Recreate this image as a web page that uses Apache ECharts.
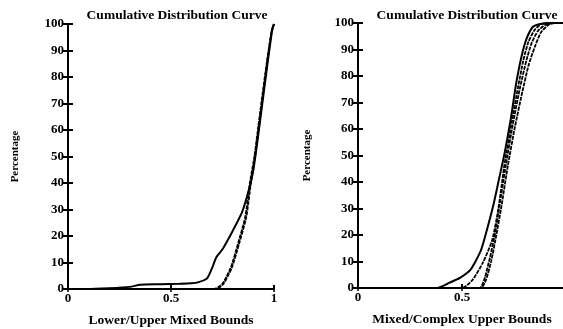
<!DOCTYPE html>
<html>
<head>
<meta charset="utf-8">
<script src="https://cdn.jsdelivr.net/npm/echarts@6/dist/echarts.min.js"></script>
<style>
  html, body { margin: 0; padding: 0; background: #fff; }
  #chart { width: 563px; height: 329px; }
</style>
</head>
<body>
<div id="chart"></div>
<script>
// tick labels
const xTicks = [0, 0.5, 1];
const yTicks = [0, 10, 20, 30, 40, 50, 60, 70, 80, 90, 100];

// left panel: lower/upper mixed bounds
const leftSolidX = [0, 0.09, 0.2, 0.3, 0.35, 0.45, 0.54, 0.6, 0.63, 0.675, 0.7, 0.72, 0.75, 0.8, 0.845, 0.88, 0.9, 0.92, 0.94, 0.965, 0.99, 1.0];
const leftSolidY = [0, 0, 0.3, 0.8, 1.6, 1.8, 2, 2.2, 2.5, 4, 8, 12, 15, 22, 29, 38, 45, 56, 68, 83, 97, 100];
const leftDashAX = [0, 0.71, 0.75, 0.79, 0.825, 0.86, 0.883, 0.905, 0.92, 0.94, 0.966, 0.99, 1];
const leftDashAY = [0, 0, 2, 8, 17, 27, 40, 50, 59, 71, 86, 98, 100];
const leftDashBX = [0, 0.72, 0.755, 0.795, 0.83, 0.865, 0.888, 0.908, 0.923, 0.943, 0.968, 0.99, 1];
const leftDashBY = [0, 0, 2, 8, 17, 27, 40, 50, 59, 71, 86, 98, 100];

// right panel: mixed/complex upper bounds
const rightSolidX = [0, 0.38, 0.44, 0.49, 0.54, 0.59, 0.62, 0.65, 0.675, 0.705, 0.735, 0.76, 0.785, 0.81, 0.84, 0.87, 0.92, 1.0];
const rightSolidY = [0, 0, 2, 3.8, 6.8, 14, 22, 31, 40, 51, 64, 77, 87, 94, 98.5, 99.5, 100, 100];
const rightDashAX = [0, 0.5, 0.55, 0.6, 0.645, 0.675, 0.705, 0.74, 0.77, 0.795, 0.82, 0.85, 0.88, 0.93, 1];
const rightDashAY = [0, 0, 3, 9.5, 18, 30, 47, 63, 76, 86, 93, 97.5, 99.5, 100, 100];
const rightDashBX = [0, 0.585, 0.61, 0.635, 0.66, 0.68, 0.71, 0.745, 0.78, 0.81, 0.835, 0.865, 0.9, 0.95, 1];
const rightDashBY = [0, 0, 4, 11.7, 21, 31, 46, 62, 76, 86, 92.5, 97, 99.3, 100, 100];
const rightDashCX = [0, 0.59, 0.615, 0.64, 0.665, 0.69, 0.72, 0.755, 0.79, 0.82, 0.85, 0.88, 0.92, 0.96, 1];
const rightDashCY = [0, 0, 3, 10, 20, 31, 46, 61, 74, 84, 91, 96.5, 99.5, 100, 100];

const titleText = 'Cumulative Distribution Curve';
const xNames = ['Lower/Upper Mixed Bounds', 'Mixed/Complex Upper Bounds'];
const yName = 'Percentage';

const font = 'Liberation Serif';
const pair = (xs, ys) => xs.map((x, i) => [x, ys[i]]);

const chart = echarts.init(document.getElementById('chart'));

// axes for one panel: bottom + top x, left + right y (ticks inside, like a box)
const xAxisFor = (grid, name) => [
  {
    gridIndex: grid, type: 'value', min: 0, max: 1, interval: 0.5, position: 'bottom',
    name: name, nameLocation: 'middle', nameGap: 25,
    nameTextStyle: { fontFamily: font, fontWeight: 'bold', fontSize: 13.5, color: '#000' },
    axisLine: { lineStyle: { color: '#000', width: 2 } },
    axisTick: { inside: true, length: 4, lineStyle: { color: '#000', width: 2 } },
    axisLabel: { fontFamily: font, fontWeight: 'bold', fontSize: 13, color: '#000', margin: 3,
      formatter: v => (xTicks.indexOf(v) >= 0 ? String(v) : '') },
    splitLine: { show: false }
  },
  {
    gridIndex: grid, type: 'value', min: 0, max: 1, interval: 0.5, position: 'top',
    axisLine: { lineStyle: { color: '#000', width: 2 } },
    axisTick: { inside: true, length: 3, lineStyle: { color: '#000', width: 1.5 } },
    axisLabel: { show: false },
    splitLine: { show: false }
  }
];
const yAxisFor = (grid, gap) => [
  {
    gridIndex: grid, type: 'value', min: 0, max: 100, interval: 10, position: 'left',
    name: yName, nameLocation: 'middle', nameGap: gap, nameRotate: 90,
    nameTextStyle: { fontFamily: font, fontWeight: 'bold', fontSize: 11, color: '#000' },
    axisLine: { show: true, lineStyle: { color: '#000', width: 2 } },
    axisTick: { show: true, inside: true, length: 5, lineStyle: { color: '#000', width: 2 } },
    axisLabel: { fontFamily: font, fontWeight: 'bold', fontSize: 13, color: '#000', margin: 4,
      formatter: v => (yTicks.indexOf(v) >= 0 ? String(v) : '') },
    splitLine: { show: false }
  },
  {
    gridIndex: grid, type: 'value', min: 0, max: 100, interval: 10, position: 'right',
    axisLine: { show: true, lineStyle: { color: '#000', width: 2 } },
    axisTick: { show: true, inside: true, length: 6, lineStyle: { color: '#000', width: 2 } },
    axisLabel: { show: false },
    splitLine: { show: false }
  }
];

const line = (grid, data, dashed) => ({
  type: 'line',
  xAxisIndex: grid * 2, yAxisIndex: grid * 2,
  data: data,
  showSymbol: false,
  smooth: 0.2,
  silent: true,
  lineStyle: dashed
    ? { color: '#000', width: 1.8, type: [4, 1] }
    : { color: '#000', width: 2 }
});

const titleStyle = { fontFamily: font, fontWeight: 'bold', fontSize: 13.5, color: '#000' };

const option = {
  backgroundColor: '#fff',
  animation: false,
  title: [
    { text: titleText, left: 172, top: 4, textAlign: 'center', textStyle: titleStyle },
    { text: titleText, left: 462, top: 4, textAlign: 'center', textStyle: titleStyle }
  ],
  grid: [
    { left: 68, top: 24, width: 206, height: 265, outerBoundsMode: 'none' },
    { left: 358, top: 23, width: 208, height: 265, outerBoundsMode: 'none' }
  ],
  xAxis: [...xAxisFor(0, xNames[0]), ...xAxisFor(1, xNames[1])],
  yAxis: [...yAxisFor(0, 47), ...yAxisFor(1, 45)],
  series: [
    line(0, pair(leftDashAX, leftDashAY), true),
    line(0, pair(leftDashBX, leftDashBY), true),
    line(0, pair(leftSolidX, leftSolidY), false),
    line(1, pair(rightDashAX, rightDashAY), true),
    line(1, pair(rightDashBX, rightDashBY), true),
    line(1, pair(rightDashCX, rightDashCY), true),
    line(1, pair(rightSolidX, rightSolidY), false)
  ]
};

chart.setOption(option);
</script>
</body>
</html>
